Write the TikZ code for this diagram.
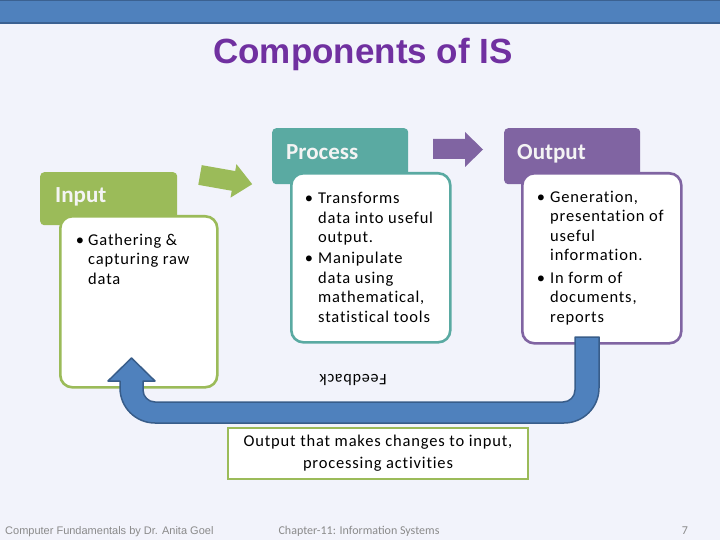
\documentclass[tikz,border=0pt]{standalone}
\usepackage{fontspec}
\setmainfont{Carlito}
\newfontfamily\arialf{Liberation Sans}
\newfontfamily\spcf[LetterSpace=5,Ligatures=NoCommon]{Carlito}
\definecolor{bgc}{HTML}{F2F3FB}
\definecolor{barblue}{HTML}{4F81BD}
\definecolor{bardark}{HTML}{3B6191}
\definecolor{titlepurple}{HTML}{7030A0}
\definecolor{ingreen}{HTML}{9BBB59}
\definecolor{procteal}{HTML}{5AAAA2}
\definecolor{outpurple}{HTML}{8064A2}
\definecolor{fbblue}{HTML}{4F81BD}
\definecolor{fbdark}{HTML}{385D8A}
\definecolor{footgray}{HTML}{8A8A8A}
\definecolor{hdrwhite}{HTML}{F4F4F4}
\begin{document}
\begin{tikzpicture}[x=1pt,y=-1pt,
  hdr/.style={rounded corners=4pt, draw=none, inner sep=0, anchor=north west},
  bodybox/.style={draw, line width=2.6pt, fill=white, rounded corners=12pt, inner sep=0, anchor=north west},
  hdrtxt/.style={anchor=base west, inner sep=0, text=hdrwhite, font=\fontsize{23}{28}\selectfont\bfseries},
  bodytxt/.style={anchor=base west, inner sep=0, align=left, font=\spcf\fontsize{16.5}{19.5}\selectfont},
  fbarrow/.style={fill=fbblue, draw=fbdark, line width=1.5pt, line join=round},
  foot/.style={inner sep=0, text=footgray, font=\fontsize{12}{14}\selectfont},
]
\useasboundingbox (0,0) rectangle (720,540);
\fill[bgc] (0,0) rectangle (720,540);
\draw[fill=barblue, draw=bardark, line width=1.5pt] (-2,0.75) rectangle (722,23);

\node[font=\arialf\bfseries\fontsize{35}{40}\selectfont, text=titlepurple, inner sep=0] (title) at (363,54) {Components of IS};

% Input
\node[hdr, fill=ingreen, minimum width=137pt, minimum height=53pt] (inhdr) at (40,172) {};
\node[bodybox, draw=ingreen, minimum width=157pt, minimum height=171pt] (inbody) at (59,215) {};
\node[hdrtxt] (intxt) at (55,203) {Input};
\node[bodytxt] (intext) at (88,284) {\llap{\textbullet\hspace{4pt}}Gathering \&\\capturing raw\\data};

% Process
\node[hdr, fill=procteal, minimum width=136pt, minimum height=56pt] (prhdr) at (272,128) {};
\node[bodybox, draw=procteal, minimum width=159pt, minimum height=169pt] (prbody) at (290,172) {};
\node[hdrtxt] (prtxt) at (286,160) {Process};
\node[bodytxt] (prtext) at (318,322) {\llap{\textbullet\hspace{5pt}}Transforms\\data into useful\\output.\\[1.5pt]\llap{\textbullet\hspace{5pt}}Manipulate\\data using\\mathematical,\\statistical tools};

% Output
\node[hdr, fill=outpurple, minimum width=136pt, minimum height=56pt] (ouhdr) at (504,128) {};
\node[bodybox, draw=outpurple, minimum width=159pt, minimum height=170pt] (oubody) at (521,172) {};
\node[hdrtxt] (outxt) at (517,160) {Output};
\node[bodytxt] (outext) at (550,322) {\llap{\textbullet\hspace{5pt}}Generation,\\presentation of\\useful\\information.\\[3pt]\llap{\textbullet\hspace{5pt}}In form of\\documents,\\reports};

% Block arrows between stages
\begin{scope}[shift={(200,175)}, rotate=-10]
  \fill[ingreen] (0,-10) -- (34,-10) -- (34,-17) -- (53,0) -- (34,17) -- (34,10) -- (0,10) -- cycle;
\end{scope}
\fill[outpurple] (433,139) -- (465,139) -- (465,132) -- (483,149.5) -- (465,167) -- (465,159) -- (433,159) -- cycle;

% Feedback arrow
\draw[fbarrow] (599,337) -- (599,388) arc[start angle=0, end angle=90, radius=35]
  -- (155,423) arc[start angle=90, end angle=180, radius=35]
  -- (120,381) -- (108,381) -- (131.5,358) -- (155,381) -- (143,381) -- (143,390)
  arc[start angle=180, end angle=90, radius=12]
  -- (563,402) arc[start angle=90, end angle=0, radius=12]
  -- (575,337) -- cycle;
\node[rotate=180, inner sep=0, font=\spcf\fontsize{16}{19}\selectfont] (fb) at (353,380) {Feedback};

% Caption
\node[draw=ingreen, line width=2.5pt, fill=white, minimum width=300pt, minimum height=51pt, inner sep=0, align=center, font=\spcf\fontsize{16.5}{22}\selectfont] (capbox) at (378,453.5) {\raisebox{-2pt}{Output that makes changes to input,}\\\raisebox{-2pt}{processing activities}};

% Footer
\node[foot, anchor=base west, font=\arialf\fontsize{11}{13}\selectfont] (f1) at (5,534) {Computer Fundamentals by Dr. Anita Goel};
\node[foot, anchor=base] (f2) at (359,534) {Chapter-11: Information Systems};
\node[foot, anchor=base] (f3) at (685,534) {7};
\end{tikzpicture}
\end{document}
